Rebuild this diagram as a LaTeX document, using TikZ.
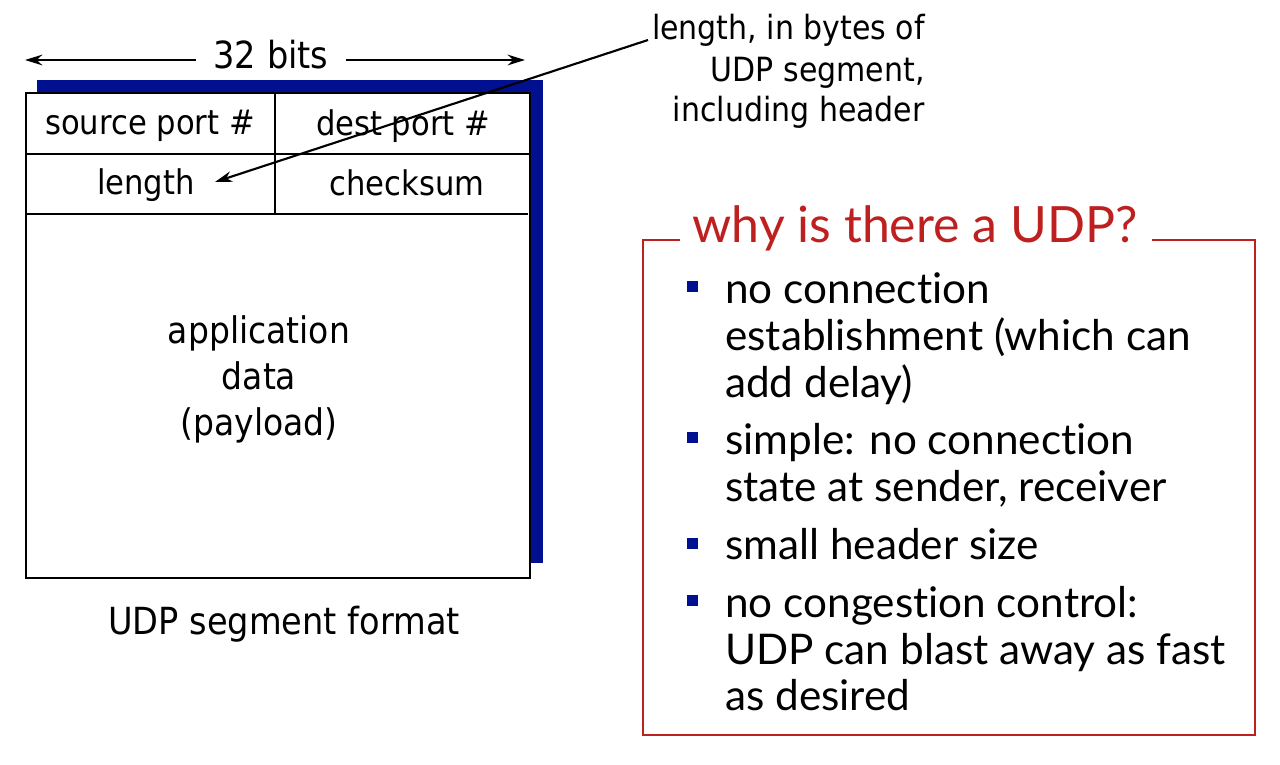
\documentclass[tikz,border=0pt]{standalone}
\usepackage{fontspec}
\usetikzlibrary{arrows.meta}
\newfontfamily\tah[FakeStretch=0.9]{DejaVu Sans}
\newfontfamily\gill[RawFeature={-liga;-dlig}]{Lato}
\definecolor{udpblue}{RGB}{0,16,145}
\definecolor{udpred}{RGB}{190,32,32}
\tikzset{
  fld/.style={font=\tah\fontsize{25.5}{30}\selectfont, inner sep=0pt},
  ann/.style={font=\tah\fontsize{25}{30}\selectfont, inner sep=0pt, anchor=base east},
  pay/.style={font=\tah\fontsize{27.5}{32}\selectfont, inner sep=0pt, anchor=base},
  itm/.style={font=\gill\fontsize{31.7}{36}\selectfont, inner sep=0pt, anchor=base west},
  bul/.style={fill=udpblue, minimum size=8.5pt, inner sep=0pt},
  arr/.style={line width=1.6pt, -{Stealth[length=13pt,width=8pt]}},
}
\begin{document}
\begin{tikzpicture}[x=0.75pt,y=-0.75pt]
\useasboundingbox (0,0) rectangle (1280,764);
% segment
\fill[udpblue] (37,80) rectangle (543,563);
\filldraw[fill=white,draw=black,line width=1.6pt] (26,93) rectangle (530,578);
\draw[line width=1.4pt] (26,154) -- (530,154);
\draw[line width=1.4pt] (26,214) -- (528,214);
\draw[line width=1.4pt] (275,93) -- (275,214);
\node[fld] (src) at (150,126) {source port \#};
\node[fld] (dst) at (403,126) {dest port \#};
\node[fld] (len) at (146,185) {length};
\node[fld] (chk) at (407,183) {checksum};
\node[pay] (p1) at (259,343) {application};
\node[pay] (p2) at (259,389) {data};
\node[pay] (p3) at (259,435) {(payload)};
\node[font=\tah\fontsize{28}{33}\selectfont, inner sep=0pt, anchor=base] (cap) at (284,634) {UDP segment format};
% 32 bits
\node[font=\tah\fontsize{28}{33}\selectfont, inner sep=0pt] (bits) at (271,55) {32 bits};
\coordinate (bl) at (25,60);
\coordinate (br) at (525,60);
\draw[arr] ([xshift=-13pt]bits.west |- bl) -- (bl);
\draw[arr] ([xshift=13pt]bits.east |- br) -- (br);
% annotation
\node[ann] (a1) at (925,39) {length, in bytes of};
\node[ann] (a2) at (925,81) {UDP segment,};
\node[ann] (a3) at (925,121) {including header};
\coordinate (astart) at (648,40);
\coordinate (aend) at (215,182);
\draw[arr] (astart) -- (aend);
% why box
\node[font=\gill\fontsize{37.5}{42}\selectfont, text=udpred, inner sep=0pt] (title) at (915,228) {why is there a UDP?};
\draw[udpred, line width=1.4pt] (680,240) -| (643,735) -| (1255,240) -- (1152,240);
\node[bul] (b1) at (692.5,286.5) {};
\node[bul] (b2) at (692.5,437.5) {};
\node[bul] (b3) at (692.5,543.5) {};
\node[bul] (b4) at (692.5,600.5) {};
\node[itm] (t11) at (725,303) {no connection};
\node[itm] (t12) at (725,350) {establishment (which can};
\node[itm] (t13) at (725,397) {add delay)};
\node[itm] (t21) at (725,454) {simple: no connection};
\node[itm] (t22) at (725,501) {state at sender, receiver};
\node[itm] (t31) at (725,559) {small header size};
\node[itm] (t41) at (725,617) {no congestion control:};
\node[itm] (t42) at (725,664) {UDP can blast away as fast};
\node[itm] (t43) at (725,710) {as desired};
\end{tikzpicture}
\end{document}
